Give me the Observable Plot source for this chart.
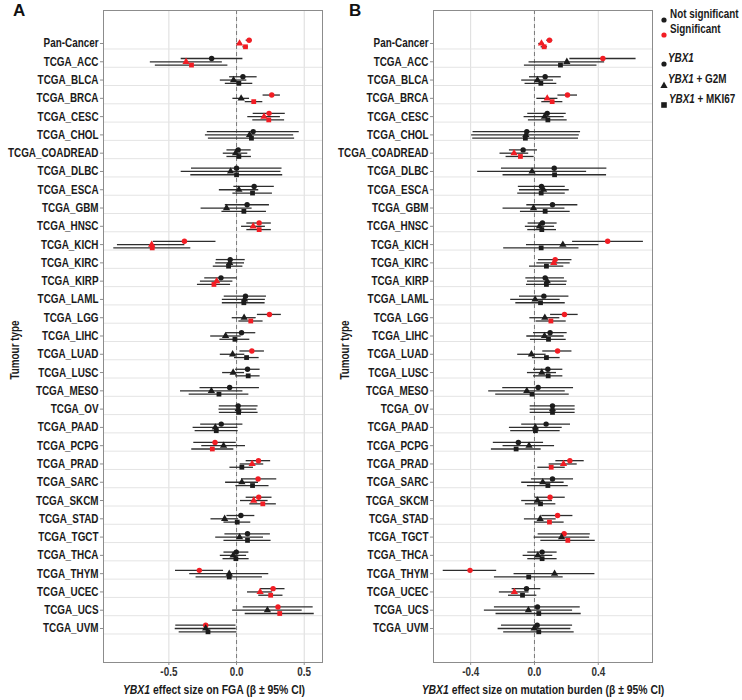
<!DOCTYPE html>
<html><head><meta charset="utf-8">
<script src="https://cdn.jsdelivr.net/npm/d3@7"></script>
<script src="https://cdn.jsdelivr.net/npm/@observablehq/plot@0.6"></script>
<style>
body{margin:0;background:#fff;font-family:"Liberation Sans",Arial,sans-serif;}
#wrap{position:relative;width:742px;height:700px;overflow:hidden;}
.panel{position:absolute;top:0;}
.tag{position:absolute;font-weight:bold;font-size:17px;color:#111;}
.xtitle{position:absolute;top:682px;width:320px;text-align:center;font-weight:bold;font-size:13px;color:#1a1a1a;white-space:nowrap;transform:scaleX(0.8);transform-origin:center;}
.lg{position:absolute;white-space:nowrap;font-weight:bold;font-size:12.5px;line-height:16px;color:#1a1a1a;transform:scaleX(0.79);transform-origin:left center;}
.sym{position:absolute;}
</style></head>
<body><div id="wrap">
<div class="tag" style="left:13px;top:1px">A</div>
<div class="tag" style="left:349px;top:1px">B</div>
<div id="panelA" class="panel" style="left:0px"></div>
<div id="panelB" class="panel" style="left:330px"></div>
<div class="xtitle" style="left:54px"><i>YBX1</i> effect size on FGA (β ± 95% CI)</div>
<div class="xtitle" style="left:383px"><i>YBX1</i> effect size on mutation burden (β ± 95% CI)</div>
<div id="legend"></div>
</div>
<script>
const tumours = ["Pan-Cancer","TCGA_ACC","TCGA_BLCA","TCGA_BRCA","TCGA_CESC","TCGA_CHOL","TCGA_COADREAD","TCGA_DLBC","TCGA_ESCA","TCGA_GBM","TCGA_HNSC","TCGA_KICH","TCGA_KIRC","TCGA_KIRP","TCGA_LAML","TCGA_LGG","TCGA_LIHC","TCGA_LUAD","TCGA_LUSC","TCGA_MESO","TCGA_OV","TCGA_PAAD","TCGA_PCPG","TCGA_PRAD","TCGA_SARC","TCGA_SKCM","TCGA_STAD","TCGA_TGCT","TCGA_THCA","TCGA_THYM","TCGA_UCEC","TCGA_UCS","TCGA_UVM"];
const models = ["YBX1","YBX1 + G2M","YBX1 + MKI67"];
const sigLevels = ["Not significant","Significant"];
const xTicksA = [-0.5, 0, 0.5];
const xTicksB = [-0.4, 0, 0.4];

// Panel A: effect on FGA — [estimate, lower, upper, significant]
const fgaYbx1 = [[0.093,0.071,0.115,1],[-0.184,-0.409,0.047,0],[0.047,-0.051,0.152,0],[0.260,0.196,0.324,1],[0.240,0.123,0.360,1],[0.123,-0.216,0.463,0],[0.012,-0.071,0.108,0],[0.000,-0.333,0.336,0],[0.130,-0.020,0.279,0],[0.078,-0.083,0.243,0],[0.167,0.076,0.257,1],[-0.385,-0.615,-0.152,1],[-0.047,-0.150,0.064,0],[-0.115,-0.235,0.005,0],[0.066,-0.091,0.221,0],[0.243,0.154,0.331,1],[0.037,-0.074,0.142,0],[0.113,0.025,0.206,1],[0.081,-0.007,0.174,0],[-0.051,-0.270,0.169,0],[0.012,-0.127,0.159,0],[-0.113,-0.265,0.047,0],[-0.159,-0.316,-0.002,1],[0.162,0.071,0.252,1],[0.159,0.037,0.297,1],[0.164,0.071,0.262,1],[0.032,-0.071,0.135,0],[0.081,-0.086,0.250,0],[-0.002,-0.093,0.091,0],[-0.275,-0.451,-0.096,1],[0.270,0.176,0.358,1],[0.306,0.049,0.566,1],[-0.228,-0.449,-0.004,1]];
const fgaG2m = [[0.022,0.002,0.042,1],[-0.373,-0.637,-0.105,1],[-0.022,-0.120,0.076,0],[0.034,-0.027,0.096,0],[0.203,0.083,0.324,1],[0.096,-0.230,0.422,0],[-0.007,-0.098,0.083,0],[-0.044,-0.409,0.328,0],[0.017,-0.127,0.164,0],[-0.074,-0.262,0.115,0],[0.123,0.037,0.213,1],[-0.627,-0.880,-0.382,1],[-0.051,-0.154,0.059,0],[-0.147,-0.267,-0.027,1],[0.059,-0.105,0.213,0],[0.056,-0.032,0.145,0],[-0.081,-0.191,0.034,0],[-0.029,-0.120,0.061,0],[-0.025,-0.103,0.059,0],[-0.186,-0.414,0.047,0],[0.012,-0.130,0.150,0],[-0.157,-0.321,0.010,0],[-0.096,-0.257,0.066,0],[0.115,0.027,0.201,1],[0.039,-0.081,0.162,0],[0.127,0.029,0.233,1],[-0.088,-0.189,0.015,0],[0.022,-0.154,0.199,0],[-0.025,-0.120,0.074,0],[-0.054,-0.346,0.238,0],[0.174,0.081,0.265,1],[0.228,-0.029,0.485,0],[-0.228,-0.453,-0.002,0]];
const fgaMki67 = [[0.066,0.047,0.088,1],[-0.333,-0.600,-0.064,1],[0.017,-0.083,0.120,0],[0.127,0.064,0.194,1],[0.238,0.120,0.355,1],[0.110,-0.208,0.429,0],[0.017,-0.071,0.110,0],[0.000,-0.338,0.341,0],[0.118,-0.027,0.265,0],[0.054,-0.108,0.221,0],[0.167,0.076,0.257,1],[-0.623,-0.907,-0.338,1],[-0.059,-0.172,0.047,0],[-0.167,-0.289,-0.044,1],[0.054,-0.105,0.211,0],[0.105,0.017,0.196,1],[-0.012,-0.123,0.098,0],[0.074,-0.015,0.167,0],[0.086,-0.007,0.174,0],[-0.130,-0.350,0.091,0],[0.015,-0.127,0.159,0],[-0.150,-0.306,0.012,0],[-0.179,-0.331,-0.020,1],[0.039,-0.049,0.125,0],[0.118,-0.005,0.240,0],[0.194,0.098,0.294,1],[0.005,-0.093,0.105,0],[0.081,-0.093,0.255,0],[-0.005,-0.100,0.093,0],[-0.054,-0.299,0.191,0],[0.252,0.164,0.343,1],[0.319,0.064,0.574,1],[-0.211,-0.424,0.002,0]];

// Panel B: effect on mutation burden — [estimate, lower, upper, significant]
const mutYbx1 = [[0.094,0.077,0.115,1],[0.429,0.222,0.637,1],[0.067,-0.031,0.168,0],[0.207,0.147,0.270,1],[0.080,-0.042,0.199,0],[-0.048,-0.385,0.289,0],[-0.071,-0.157,0.019,0],[0.124,-0.207,0.454,0],[0.044,-0.101,0.193,0],[0.113,-0.048,0.272,0],[0.050,-0.040,0.142,0],[0.459,0.239,0.683,1],[0.130,0.025,0.235,1],[0.067,-0.054,0.188,0],[0.059,-0.094,0.216,0],[0.188,0.101,0.274,1],[0.098,-0.006,0.205,0],[0.145,0.052,0.235,1],[0.084,-0.006,0.178,0],[0.023,-0.199,0.245,0],[0.113,-0.027,0.255,0],[0.073,-0.080,0.226,0],[-0.101,-0.258,0.057,0],[0.222,0.134,0.312,1],[0.113,-0.019,0.245,0],[0.098,0.004,0.193,1],[0.145,0.046,0.241,1],[0.186,0.023,0.350,1],[0.048,-0.042,0.142,0],[-0.404,-0.572,-0.237,1],[-0.050,-0.140,0.040,0],[0.019,-0.251,0.287,0],[0.017,-0.207,0.239,0]];
const mutG2m = [[0.044,0.027,0.063,1],[0.203,-0.034,0.440,0],[0.019,-0.080,0.119,0],[0.080,0.015,0.147,1],[0.063,-0.065,0.186,0],[-0.054,-0.394,0.281,0],[-0.128,-0.216,-0.036,1],[-0.015,-0.356,0.327,0],[0.057,-0.094,0.218,0],[-0.006,-0.197,0.191,0],[0.031,-0.057,0.126,0],[0.178,-0.050,0.404,0],[0.121,0.015,0.224,1],[0.080,-0.044,0.205,0],[0.004,-0.149,0.161,0],[0.065,-0.029,0.159,0],[0.063,-0.048,0.186,0],[-0.019,-0.105,0.073,0],[0.046,-0.044,0.138,0],[-0.048,-0.287,0.193,0],[0.113,-0.027,0.255,0],[0.006,-0.157,0.174,0],[-0.034,-0.197,0.126,0],[0.182,0.092,0.268,1],[0.052,-0.080,0.186,0],[0.019,-0.080,0.113,0],[0.036,-0.063,0.136,0],[0.170,-0.002,0.346,0],[0.021,-0.071,0.115,0],[0.126,-0.128,0.379,0],[-0.126,-0.220,-0.034,1],[-0.038,-0.314,0.239,0],[-0.002,-0.228,0.228,0]];
const mutMki67 = [[0.061,0.042,0.082,1],[0.163,-0.063,0.392,0],[0.040,-0.059,0.140,0],[0.111,0.046,0.178,1],[0.084,-0.038,0.205,0],[-0.057,-0.387,0.276,0],[-0.088,-0.178,-0.002,1],[0.126,-0.197,0.452,0],[0.042,-0.105,0.193,0],[0.067,-0.088,0.224,0],[0.046,-0.042,0.138,0],[0.042,-0.193,0.279,0],[0.075,-0.031,0.184,0],[0.075,-0.050,0.201,0],[0.038,-0.117,0.193,0],[0.103,0.010,0.199,1],[0.088,-0.025,0.199,0],[0.075,-0.013,0.161,0],[0.086,-0.006,0.178,0],[-0.015,-0.243,0.218,0],[0.113,-0.027,0.255,0],[0.006,-0.149,0.161,0],[-0.115,-0.270,0.042,0],[0.105,0.021,0.193,1],[0.084,-0.044,0.212,0],[0.038,-0.057,0.134,0],[0.094,0.002,0.186,1],[0.209,0.040,0.381,1],[0.048,-0.042,0.142,0],[-0.036,-0.251,0.180,0],[-0.075,-0.163,0.015,0],[0.027,-0.241,0.293,0],[0.027,-0.193,0.249,0]];

const RED = "#f21d24", BLACK = "#1c1c1c";
const dodge = [-0.18, 0, 0.18];
const rowIdx = d3.range(tumours.length);
const NARROW = 0.79;

function build(series, xDomain, xTicks) {
  const data = [];
  series.forEach((rows, k) => rows.forEach((r, i) => data.push({
    y: i + dodge[k], est: r[0], lo: r[1], hi: r[2],
    sig: sigLevels[r[3]], model: models[k]
  })));
  return Plot.plot({
    width: 330, height: 700,
    marginLeft: 103, marginRight: 8, marginTop: 10, marginBottom: 38,
    style: {background: "transparent", fontFamily: '"Liberation Sans",Arial,sans-serif', fontSize: "12.5px", fontWeight: "bold", color: "#1a1a1a"},
    x: {domain: xDomain},
    y: {domain: [-1.805, 33.86], reverse: true},
    color: {domain: sigLevels, range: [BLACK, RED]},
    symbol: {domain: models, range: ["circle", "triangle", "square"]},
    marks: [
      Plot.ruleX(xTicks, {stroke: "#dcdcdc", strokeWidth: 1}),
      Plot.ruleY(rowIdx.map(i => i + 0.3), {stroke: "#e4e4e4", strokeWidth: 1}),
      Plot.ruleX([0], {stroke: "#7a7a7a", strokeWidth: 1, strokeDasharray: "4,3"}),
      Plot.ruleY(data, {y: "y", x1: "lo", x2: "hi", stroke: "#2e2e2e", strokeWidth: 1.3}),
      Plot.dot(data, {x: "est", y: "y", symbol: "model", fill: "sig", r: 2.7, stroke: "none"}),
      Plot.frame({stroke: "#8c8c8c", strokeWidth: 1}),
      Plot.axisX(xTicks, {tickFormat: d => d.toFixed(1), tickSize: 3, tickPadding: 2, stroke: "#8c8c8c", fill: "#333", label: null, fontSize: 12.5}),
      Plot.axisY(rowIdx, {tickFormat: i => tumours[i], tickSize: 3, tickPadding: 2, stroke: "#8c8c8c", fill: "#1a1a1a", label: null, fontSize: 12.5})
    ]
  });
}

function addYTitle(svg) {
  d3.select(svg).append("text")
    .attr("transform", "translate(19,350) rotate(-90)")
    .attr("text-anchor", "middle")
    .attr("font-weight", "bold").attr("font-size", 12.5).attr("fill", "#1a1a1a")
    .text("Tumour type");
}

// Narrow the glyphs (the reference uses a condensed face)
function condense(svg) {
  d3.select(svg).selectAll("text").each(function() {
    const L = this.getComputedTextLength();
    if (L > 0) {
      this.setAttribute("textLength", (L * NARROW).toFixed(2));
      this.setAttribute("lengthAdjust", "spacingAndGlyphs");
    }
  });
}

const svgA = build([fgaYbx1, fgaG2m, fgaMki67], [-0.983, 0.635], xTicksA);
addYTitle(svgA);
document.getElementById("panelA").appendChild(svgA);
condense(svgA);
const svgB = build([mutYbx1, mutG2m, mutMki67], [-0.633, 0.740], xTicksB);
addYTitle(svgB);
document.getElementById("panelB").appendChild(svgB);
condense(svgB);

// Legend
const shapeSvg = {
  circle: c => `<svg width="8" height="8"><circle cx="4" cy="4" r="2.6" fill="${c}"/></svg>`,
  triangle: c => `<svg width="8" height="8"><path d="M4,0.6L7.6,7L0.4,7Z" fill="${c}"/></svg>`,
  square: c => `<svg width="8" height="8"><rect x="1.2" y="1.2" width="5.6" height="5.6" fill="${c}"/></svg>`
};
const legendItems = [
  {cx: 664, cy: 14, tx: 670, shape: "circle", col: BLACK, html: "Not significant"},
  {cx: 664, cy: 28.5, tx: 670, shape: "circle", col: RED, html: "Significant"},
  {cx: 663.5, cy: 57.5, tx: 667.5, shape: "circle", col: BLACK, html: "<i>YBX1</i>"},
  {cx: 663.5, cy: 79, tx: 668, shape: "triangle", col: BLACK, html: "<i>YBX1</i> + G2M"},
  {cx: 664, cy: 99, tx: 669, shape: "square", col: BLACK, html: "<i>YBX1</i> + MKI67"}
];
document.getElementById("legend").innerHTML = legendItems.map(d =>
  `<div class="sym" style="left:${d.cx - 4}px;top:${d.cy - 4}px;width:8px;height:8px">${shapeSvg[d.shape](d.col)}</div>` +
  `<div class="lg" style="left:${d.tx}px;top:${d.cy - 8}px">${d.html}</div>`).join("");
</script>
</body></html>
